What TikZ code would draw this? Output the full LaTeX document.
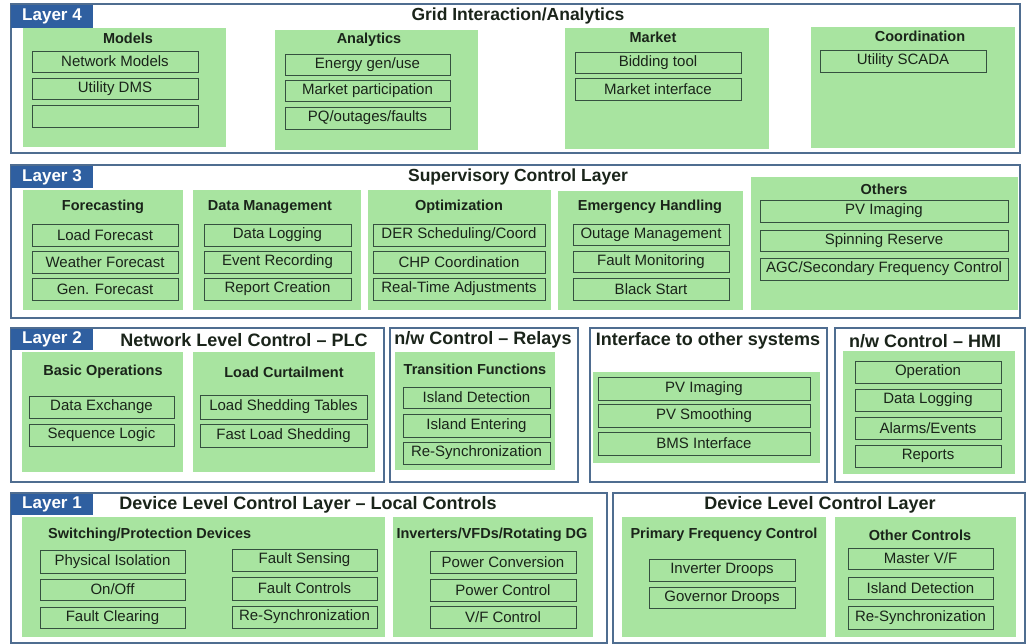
\documentclass[tikz,border=0pt]{standalone}
\usepackage{fontspec}
\setmainfont{Liberation Sans}
\definecolor{frameblue}{HTML}{4F6D90}
\definecolor{tabblue}{HTML}{2F5FA0}
\definecolor{grpgreen}{HTML}{A8E4A0}
\definecolor{itemline}{HTML}{35503F}
\definecolor{inktext}{HTML}{1A241A}

% rectangle node given by its corners: style, name, x1, y1, x2, y2, text
\newcommand{\cornerbox}[7]{%
  \node[#1, minimum width={(#5)-(#3)}, minimum height={(#6)-(#4)}]
    (#2) at ({((#3)+(#5))/2},{((#4)+(#6))/2}) {#7};}

\tikzset{
  layerframe/.style={draw=frameblue, line width=1.6pt, fill=white, inner sep=0, outer sep=0},
  tabbox/.style={fill=tabblue, text=white, font=\fontsize{17}{19}\selectfont\bfseries, inner sep=0, outer sep=0},
  groupbox/.style={fill=grpgreen, draw=none, inner sep=0, outer sep=0},
  itembox/.style={fill=grpgreen, draw=itemline, line width=0.9pt, inner sep=0, outer sep=0,
    font=\fontsize{15}{17}\selectfont, text=inktext},
  grouptitle/.style={font=\fontsize{14.5}{16}\selectfont\bfseries, text=inktext, inner sep=0},
  layertitle/.style={font=\fontsize{18}{20}\selectfont\bfseries, text=inktext, inner sep=0},
  uppertitle/.style={font=\fontsize{17.5}{19}\selectfont\bfseries, text=inktext, inner sep=0},
}

\begin{document}
\begin{tikzpicture}[x=1pt,y=-1pt]
\useasboundingbox (0,0) rectangle (1028,644);

% ---------------- Layer 4 ----------------
\cornerbox{layerframe}{l4}{11}{4}{1020}{153}{}
\cornerbox{tabbox}{l4tab}{11}{5}{93}{28}{Layer 4}
\node[uppertitle] (l4title) at (518,16) {Grid Interaction/Analytics};

\cornerbox{groupbox}{models}{23}{28}{226}{147}{}
\node[grouptitle] (modelsT) at (128,38) {Models};
\cornerbox{itembox}{netmodels}{32}{51}{198}{72}{Network Models}
\cornerbox{itembox}{utildms}{32}{78}{198}{99}{Utility DMS}
\cornerbox{itembox}{modelsblank}{32}{105}{198}{127}{}

\cornerbox{groupbox}{analytics}{275}{30}{478}{150}{}
\node[grouptitle] (analyticsT) at (369,40) {Analytics};
\cornerbox{itembox}{energy}{285}{54}{450}{75}{Energy gen/use}
\cornerbox{itembox}{mktpart}{285}{80}{450}{101}{Market participation}
\cornerbox{itembox}{pq}{285}{107}{450}{129}{PQ/outages/faults}

\cornerbox{groupbox}{market}{565}{28}{769}{149}{}
\node[grouptitle] (marketT) at (653,37) {Market};
\cornerbox{itembox}{bidding}{575}{52}{741}{73}{Bidding tool}
\cornerbox{itembox}{mktif}{575}{78}{741}{100}{Market interface}

\cornerbox{groupbox}{coord}{811}{27}{1015}{148}{}
\node[grouptitle] (coordT) at (920,36) {Coordination};
\cornerbox{itembox}{scada}{820}{50}{986}{72}{Utility SCADA}

% ---------------- Layer 3 ----------------
\cornerbox{layerframe}{l3}{11}{165}{1020}{318}{}
\cornerbox{tabbox}{l3tab}{11}{166}{93}{188}{Layer 3}
\node[uppertitle] (l3title) at (518,177) {Supervisory Control Layer};

\cornerbox{groupbox}{fcst}{23}{190}{183}{310}{}
\node[grouptitle] (fcstT) at (103,207) {Forecasting};
\cornerbox{itembox}{loadf}{32}{224}{178}{246}{Load Forecast}
\cornerbox{itembox}{weatherf}{32}{251}{178}{273}{Weather Forecast}
\cornerbox{itembox}{genf}{32}{278}{178}{300}{Gen. Forecast}

\cornerbox{groupbox}{datamgmt}{193}{190}{361}{310}{}
\node[grouptitle] (datamgmtT) at (270,207) {Data Management};
\cornerbox{itembox}{datalog}{204}{224}{351}{246}{Data Logging}
\cornerbox{itembox}{eventrec}{204}{251}{351}{273}{Event Recording}
\cornerbox{itembox}{report}{204}{278}{351}{300}{Report Creation}

\cornerbox{groupbox}{optim}{368}{190}{551}{310}{}
\node[grouptitle] (optimT) at (459,207) {Optimization};
\cornerbox{itembox}{dersched}{373}{224}{545}{246}{DER Scheduling/Coord}
\cornerbox{itembox}{chp}{373}{251}{545}{273}{CHP Coordination}
\cornerbox{itembox}{rtadj}{373}{278}{545}{300}{Real-Time Adjustments}

\cornerbox{groupbox}{emerg}{558}{191}{743}{310}{}
\node[grouptitle] (emergT) at (650,207) {Emergency Handling};
\cornerbox{itembox}{outage}{573}{224}{729}{245}{Outage Management}
\cornerbox{itembox}{faultmon}{573}{251}{729}{272}{Fault Monitoring}
\cornerbox{itembox}{blackstart}{573}{278}{729}{300}{Black Start}

\cornerbox{groupbox}{others}{751}{177}{1018}{310}{}
\node[grouptitle] (othersT) at (884,189) {Others};
\cornerbox{itembox}{pvimg3}{760}{200}{1008}{222}{PV Imaging}
\cornerbox{itembox}{spinning}{760}{230}{1008}{251}{Spinning Reserve}
\cornerbox{itembox}{agc}{760}{258}{1008}{280}{AGC/Secondary Frequency Control}

% ---------------- Layer 2 ----------------
\cornerbox{layerframe}{plc}{11}{328}{384}{482}{}
\cornerbox{tabbox}{l2tab}{11}{329}{93}{350}{Layer 2}
\node[layertitle] (plcT) at (244,340) {Network Level Control -- PLC};

\cornerbox{groupbox}{basicops}{22}{352}{183}{472}{}
\node[grouptitle] (basicopsT) at (103,372) {Basic Operations};
\cornerbox{itembox}{dataex}{29}{396}{174}{418}{Data Exchange}
\cornerbox{itembox}{seqlogic}{29}{424}{174}{446}{Sequence Logic}

\cornerbox{groupbox}{curtail}{193}{352}{375}{472}{}
\node[grouptitle] (curtailT) at (284,372) {Load Curtailment};
\cornerbox{itembox}{shedtab}{200}{395}{367}{419}{Load Shedding Tables}
\cornerbox{itembox}{fastshed}{200}{424}{367}{447}{Fast Load Shedding}

\cornerbox{layerframe}{relays}{390}{328}{578}{482}{}
\node[layertitle] (relaysT) at (483,340) {n/w Control -- Relays};
\cornerbox{groupbox}{trans}{395}{352}{555}{470}{}
\node[grouptitle] (transT) at (475,369) {Transition Functions};
\cornerbox{itembox}{islanddet2}{403}{387}{550}{408}{Island Detection}
\cornerbox{itembox}{islandent}{403}{414}{550}{437}{Island Entering}
\cornerbox{itembox}{resync2}{403}{442}{550}{464}{Re-Synchronization}

\cornerbox{layerframe}{iface}{590}{328}{827}{482}{}
\node[layertitle] (ifaceT) at (708,341) {Interface to other systems};
\cornerbox{groupbox}{ifacegrp}{593}{372}{820}{463}{}
\cornerbox{itembox}{pvimg2}{598}{377}{810}{400}{PV Imaging}
\cornerbox{itembox}{pvsmooth}{598}{404}{810}{427}{PV Smoothing}
\cornerbox{itembox}{bms}{598}{432}{810}{455}{BMS Interface}

\cornerbox{layerframe}{hmi}{835}{328}{1025}{482}{}
\node[layertitle] (hmiT) at (925,341) {n/w Control -- HMI};
\cornerbox{groupbox}{hmigrp}{843}{351}{1015}{474}{}
\cornerbox{itembox}{operation}{855}{361}{1001}{383}{Operation}
\cornerbox{itembox}{datalog2}{855}{389}{1001}{411}{Data Logging}
\cornerbox{itembox}{alarms}{855}{417}{1001}{439}{Alarms/Events}
\cornerbox{itembox}{reports}{855}{445}{1001}{467}{Reports}

% ---------------- Layer 1 ----------------
\cornerbox{layerframe}{local}{11}{493}{607}{643}{}
\cornerbox{tabbox}{l1tab}{11}{494}{93}{515}{Layer 1}
\node[layertitle] (localT) at (308,505) {Device Level Control Layer -- Local Controls};

\cornerbox{groupbox}{switching}{22}{517}{385}{637}{}
\node[grouptitle, anchor=west] (switchingT) at (48,535) {Switching/Protection Devices};
\cornerbox{itembox}{physiso}{40}{550}{185}{573}{Physical Isolation}
\cornerbox{itembox}{onoff}{40}{579}{185}{600}{On/Off}
\cornerbox{itembox}{faultclr}{40}{607}{185}{628}{Fault Clearing}
\cornerbox{itembox}{faultsens}{232}{549}{377}{571}{Fault Sensing}
\cornerbox{itembox}{faultctl}{232}{577}{377}{600}{Fault Controls}
\cornerbox{itembox}{resync1}{232}{606}{377}{628}{Re-Synchronization}

\cornerbox{groupbox}{inverters}{393}{517}{593}{637}{}
\node[grouptitle] (invertersT) at (492,535) {Inverters/VFDs/Rotating DG};
\cornerbox{itembox}{powconv}{430}{551}{576}{573}{Power Conversion}
\cornerbox{itembox}{powctl}{430}{579}{576}{601}{Power Control}
\cornerbox{itembox}{vfctl}{430}{606}{576}{628}{V/F Control}

\cornerbox{layerframe}{device}{613}{493}{1025}{643}{}
\node[layertitle] (deviceT) at (820,505) {Device Level Control Layer};

\cornerbox{groupbox}{pfc}{622}{517}{826}{637}{}
\node[grouptitle] (pfcT) at (724,535) {Primary Frequency Control};
\cornerbox{itembox}{invdroop}{649}{559}{795}{581}{Inverter Droops}
\cornerbox{itembox}{govdroop}{649}{587}{795}{608}{Governor Droops}

\cornerbox{groupbox}{otherctl}{835}{517}{1016}{637}{}
\node[grouptitle] (otherctlT) at (920,535) {Other Controls};
\cornerbox{itembox}{mastervf}{848}{548}{993}{569}{Master V/F}
\cornerbox{itembox}{islanddet1}{848}{577}{993}{599}{Island Detection}
\cornerbox{itembox}{resync3}{848}{606}{993}{629}{Re-Synchronization}

\end{tikzpicture}
\end{document}
